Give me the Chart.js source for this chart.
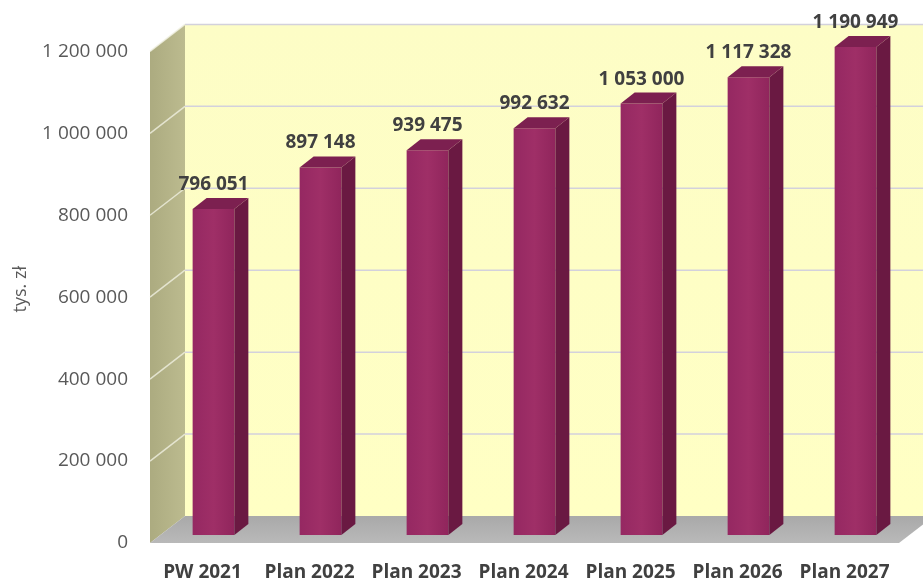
<!DOCTYPE html>
<html>
<head>
<meta charset="utf-8">
<script src="https://cdn.jsdelivr.net/npm/chart.js@4.4.1/dist/chart.umd.min.js"></script>
<style>
  html, body { margin: 0; padding: 0; background: #fff; }
  #wrap { width: 923px; height: 579px; }
</style>
</head>
<body>
<div id="wrap"><canvas id="chart" width="923" height="579"></canvas></div>
<script>
const categories = ["PW 2021", "Plan 2022", "Plan 2023", "Plan 2024", "Plan 2025", "Plan 2026", "Plan 2027"];
const values = [796051, 897148, 939475, 992632, 1053000, 1117328, 1190949];
const yTicks = [0, 200000, 400000, 600000, 800000, 1000000, 1200000];

// depth of the bars and of the whole "room", in pixels
const barDX = 14, barDY = -11;
const frontDX = -10, frontDY = 8;
const backDX = 25, backDY = -19;

function fmt(v) {
  return String(v).replace(/\B(?=(\d{3})+(?!\d))/g, " ");
}

const room3d = {
  id: "room3d",
  beforeDatasetsDraw(chart) {
    const { ctx, chartArea: a, scales: { y } } = chart;
    const yb = y.getPixelForValue(0);
    const yt = y.getPixelForValue(1200000);
    ctx.save();

    // back wall
    let g = ctx.createLinearGradient(0, yt + backDY, 0, yb + backDY);
    g.addColorStop(0, "#fdfdc6");
    g.addColorStop(1, "#ffffc4");
    ctx.fillStyle = g;
    ctx.fillRect(a.left + backDX, yt + backDY, chart.width, yb - yt);

    // left wall
    g = ctx.createLinearGradient(a.left + frontDX, 0, a.left + backDX, 0);
    g.addColorStop(0, "#acab80");
    g.addColorStop(1, "#bcbb8f");
    ctx.fillStyle = g;
    ctx.beginPath();
    ctx.moveTo(a.left + frontDX, yt + frontDY);
    ctx.lineTo(a.left + backDX, yt + backDY);
    ctx.lineTo(a.left + backDX, yb + backDY);
    ctx.lineTo(a.left + frontDX, yb + frontDY);
    ctx.closePath();
    ctx.fill();

    // floor
    g = ctx.createLinearGradient(0, yb + backDY, 0, yb + frontDY);
    g.addColorStop(0, "#a9a9a9");
    g.addColorStop(1, "#b9b9b9");
    ctx.fillStyle = g;
    ctx.beginPath();
    ctx.moveTo(a.left + frontDX, yb + frontDY);
    ctx.lineTo(a.right + frontDX, yb + frontDY);
    ctx.lineTo(a.right + backDX, yb + backDY);
    ctx.lineTo(a.left + backDX, yb + backDY);
    ctx.closePath();
    ctx.fill();

    // gridlines
    yTicks.forEach((t) => {
      if (t === 0) return;
      const py = y.getPixelForValue(t);
      ctx.strokeStyle = "#d3d1dc";
      ctx.lineWidth = 1.5;
      ctx.beginPath();
      ctx.moveTo(a.left + backDX, py + backDY);
      ctx.lineTo(chart.width, py + backDY);
      ctx.stroke();
      ctx.strokeStyle = "rgba(240,240,225,0.8)";
      ctx.beginPath();
      ctx.moveTo(a.left + frontDX, py + frontDY);
      ctx.lineTo(a.left + backDX, py + backDY);
      ctx.stroke();
    });
    ctx.restore();
  },
  afterDatasetsDraw(chart) {
    const { ctx } = chart;
    const meta = chart.getDatasetMeta(0);
    ctx.save();
    meta.data.forEach((bar, i) => {
      const l = bar.x - bar.width / 2;
      const r = bar.x + bar.width / 2;
      // side
      ctx.fillStyle = "#6a1942";
      ctx.beginPath();
      ctx.moveTo(r, bar.y);
      ctx.lineTo(r + barDX, bar.y + barDY);
      ctx.lineTo(r + barDX, bar.base + barDY);
      ctx.lineTo(r, bar.base);
      ctx.closePath();
      ctx.fill();
      // top
      ctx.fillStyle = "#7c2050";
      ctx.beginPath();
      ctx.moveTo(l, bar.y);
      ctx.lineTo(l + barDX, bar.y + barDY);
      ctx.lineTo(r + barDX, bar.y + barDY);
      ctx.lineTo(r, bar.y);
      ctx.closePath();
      ctx.fill();
      // value label
      ctx.fillStyle = "#404040";
      ctx.font = "bold 19px 'Open Sans'";
      ctx.textAlign = "center";
      ctx.textBaseline = "alphabetic";
      ctx.fillText(fmt(values[i]), bar.x, bar.y + barDY - 8);
    });
    ctx.restore();
  }
};

new Chart(document.getElementById("chart"), {
  type: "bar",
  data: {
    labels: categories,
    datasets: [{
      data: values,
      backgroundColor: (c) => {
        const xs = c.chart.scales.x;
        if (!xs) return "#9a2b63";
        const x = xs.getPixelForValue(c.dataIndex);
        const w = 42;
        if (!isFinite(x)) return "#9a2b63";
        const g = c.chart.ctx.createLinearGradient(x - w / 2, 0, x + w / 2, 0);
        g.addColorStop(0, "#952862");
        g.addColorStop(0.5, "#9f2f67");
        g.addColorStop(1, "#90255c");
        return g;
      },
      borderWidth: 0,
      categoryPercentage: 1,
      barPercentage: 0.39
    }]
  },
  options: {
    responsive: false,
    animation: false,
    layout: { padding: { top: 38, right: 14, left: 0, bottom: 0 } },
    plugins: { legend: { display: false }, tooltip: { enabled: false } },
    scales: {
      x: {
        grid: { display: false },
        border: { display: false },
        ticks: {
          color: "#404040",
          font: { family: "'Open Sans'", size: 19, weight: "bold" },
          padding: 18,
          labelOffset: -11,
          maxRotation: 0
        },
        afterFit: (s) => { s.height = 44; }
      },
      y: {
        min: 0,
        max: 1200000,
        grid: { display: false, drawTicks: false },
        border: { display: false },
        afterBuildTicks: (s) => { s.ticks = yTicks.map((v) => ({ value: v })); },
        ticks: {
          color: "#595959",
          font: { family: "'Open Sans'", size: 19 },
          padding: 32,
          labelOffset: 8,
          callback: (v) => fmt(v)
        },
        title: {
          display: true,
          text: "tys. zł",
          color: "#595959",
          font: { family: "'Open Sans'", size: 18 },
          padding: 10
        },
        afterFit: (s) => { s.width = 160; }
      }
    }
  },
  plugins: [room3d]
});
</script>
</body>
</html>
